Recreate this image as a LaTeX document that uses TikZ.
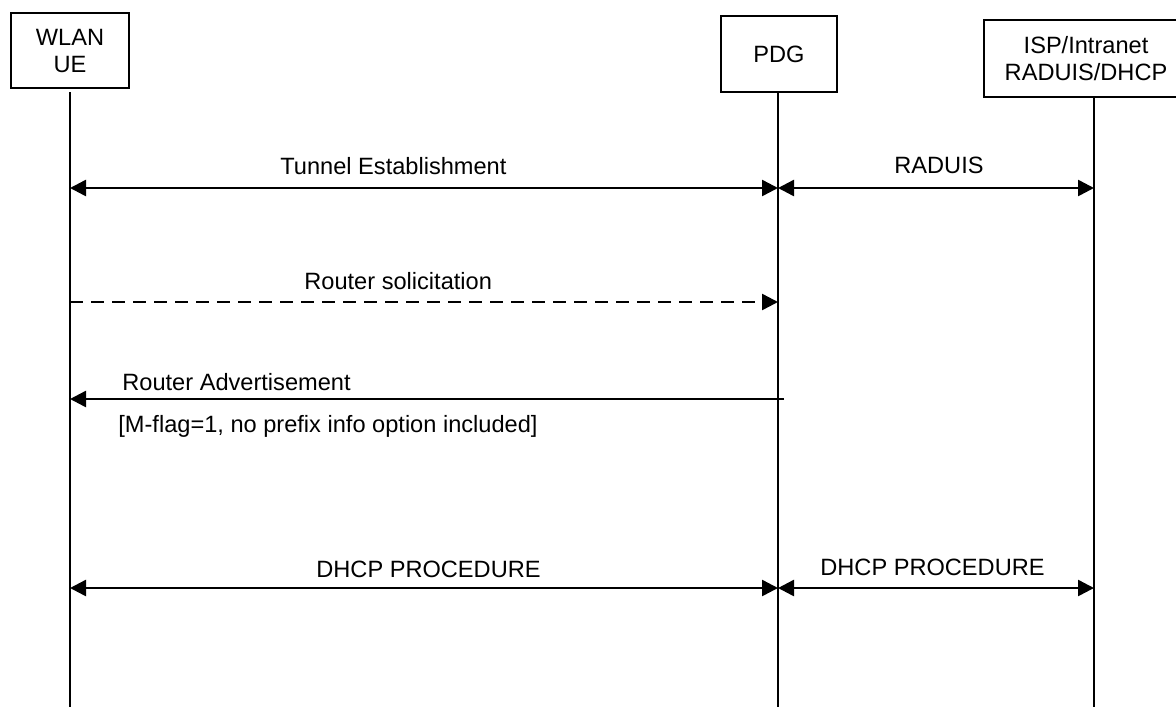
\documentclass[tikz,border=0pt]{standalone}
\usepackage{fontspec}
\setmainfont{Liberation Sans}
\usetikzlibrary{arrows.meta}

\newcommand{\msgfont}{\fontsize{11.8}{13.5}\selectfont}

\tikzset{
  entity/.style={draw, line width=0.9pt, align=center, inner sep=0pt, font=\msgfont},
  lifeline/.style={line width=0.95pt},
  msgline/.style={line width=1.25pt, -{Triangle[length=8pt,width=8pt]}},
  twoway/.style={line width=1.25pt, {Triangle[length=8pt,width=8pt]}-{Triangle[length=8pt,width=8pt]}},
  msgtext/.style={font=\msgfont, inner sep=0pt, anchor=base west}
}

\begin{document}
\begin{tikzpicture}[x=0.5pt, y=-0.5pt]
    \useasboundingbox (0,0) rectangle (1176,707);
    \clip (0,0) rectangle (1176,707);

    % entities
    \node[entity, minimum width=59pt, minimum height=37.5pt] (ue) at (70,50.5) {WLAN\\UE};
    \node[entity, minimum width=58pt, minimum height=38pt] (pdg) at (779,54) {PDG};
    \node[entity, minimum width=102pt, minimum height=38.5pt] (isp) at (1086,58.5) {ISP/Intranet\\RADUIS/DHCP};

    % lifelines and message points
    \foreach \name/\x/\top in {ue/70/92, pdg/778/92, isp/1094/97} {
        \coordinate (\name0) at (\x,\top);
        \coordinate (\name9) at (\x,707);
        \draw[lifeline] (\name0) -- (\name9);
        \foreach \n/\y in {1/188, 2/302, 3/399, 4/588}
            \coordinate (\name\n) at (\x,\y);
    }
    \coordinate (pdgStart) at (784,399);

    % messages
    \draw[twoway] (ue1) -- (pdg1);
    \node[msgtext] (tunnel) at (280,174) {Tunnel Establishment};
    \draw[twoway] (pdg1) -- (isp1);
    \node[msgtext] (radius) at (894,173) {RADUIS};

    \draw[msgline, dash pattern=on 6.5pt off 4pt] (ue2) -- (pdg2);
    \node[msgtext] (solicit) at (304,289) {Router solicitation};

    \draw[msgline] (pdgStart) -- (ue3);
    \node[msgtext] (advert) at (122,390) {Router Advertisement};
    \node[msgtext] (mflag) at (118,432) {[M-flag=1, no prefix info option included]};

    \draw[twoway] (ue4) -- (pdg4);
    \node[msgtext] (dhcpA) at (316,577) {DHCP PROCEDURE};
    \draw[twoway] (pdg4) -- (isp4);
    \node[msgtext] (dhcpB) at (820,575) {DHCP PROCEDURE};
\end{tikzpicture}
\end{document}
